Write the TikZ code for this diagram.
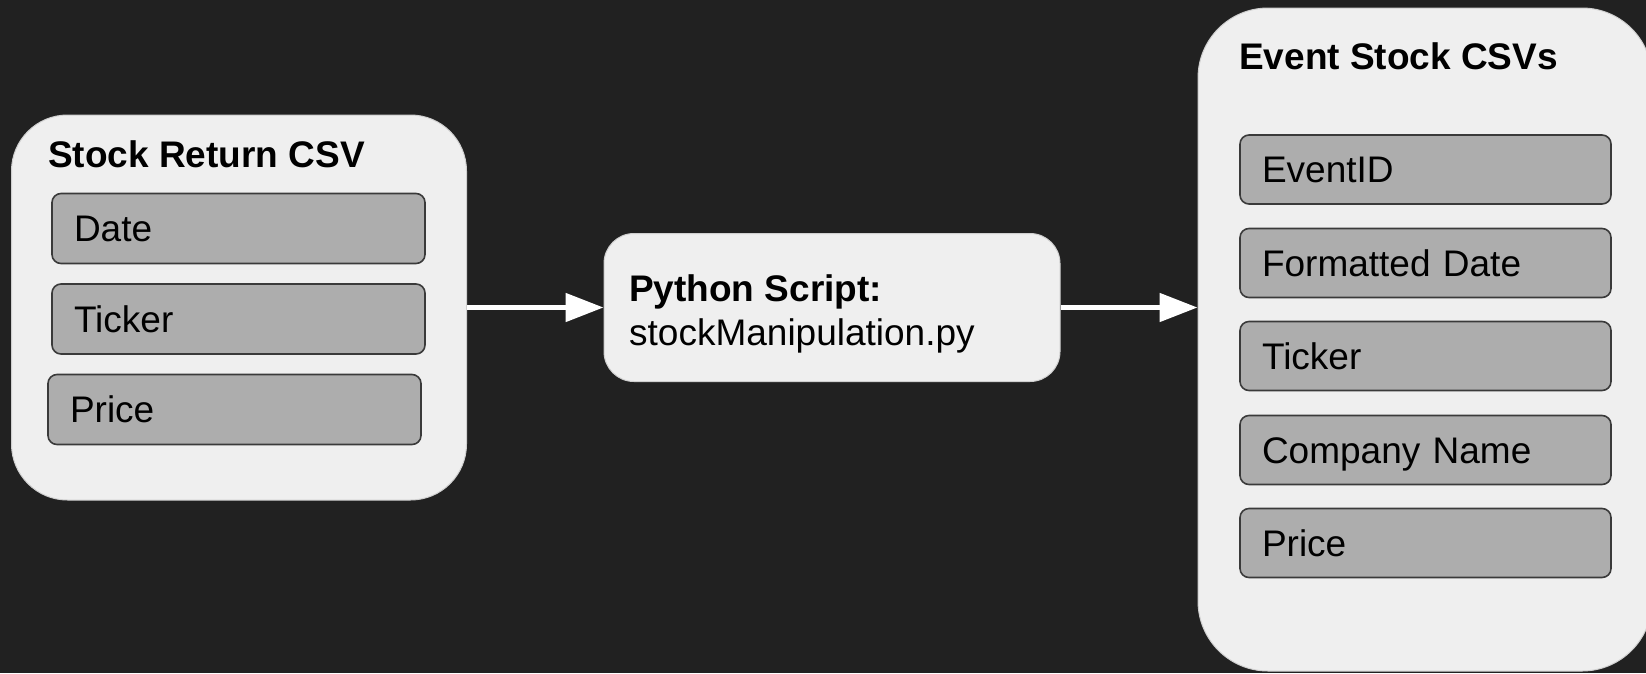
\documentclass[tikz,border=0pt]{standalone}
\usepackage{fontspec}
\setmainfont{Liberation Sans}
\usetikzlibrary{arrows.meta}
\definecolor{bgc}{HTML}{212121}
\definecolor{outerfill}{HTML}{EFEFEF}
\definecolor{outerline}{HTML}{CFCFCF}
\definecolor{fieldfill}{HTML}{ADADAD}
\definecolor{fieldline}{HTML}{3A3A3A}
\tikzset{
  txt/.style={font=\fontsize{37}{44}\selectfont},
  container/.style={draw=outerline, line width=1pt, fill=outerfill, inner sep=0pt},
  field/.style={draw=fieldline, line width=1.6pt, fill=fieldfill, rounded corners=9pt,
    txt, align=left, inner xsep=22pt, inner ysep=0pt, text height=26.5pt, text depth=0pt},
  title/.style={txt, font=\fontsize{37}{44}\selectfont\bfseries, anchor=base west, inner sep=0pt},
  label/.style={txt, anchor=base west, inner sep=0pt},
  flow/.style={draw=white, line width=5pt, -{Triangle[length=38pt, width=28pt]}},
}
\begin{document}
\begin{tikzpicture}[x=1pt, y=-1pt]
\path[use as bounding box, fill=bgc] (0,0) rectangle (1646,673);
% left container
\node[container, rounded corners=56pt, minimum width=455pt, minimum height=385pt] (src) at (239,307.5) {};
\node[title] (srct) at (48,167) {Stock Return CSV};
\node[field, text width=329pt, minimum height=70pt] (f1) at (238.5,228.5) {Date};
\node[field, text width=329pt, minimum height=70pt] (f2) at (238.5,319) {Ticker};
\node[field, text width=329pt, minimum height=70pt] (f3) at (234.5,409.5) {Price};
% middle
\node[container, rounded corners=30pt, minimum width=456pt, minimum height=148pt] (py) at (832,307.5) {};
\node[title] (pyt) at (629,301) {Python Script:};
\node[label] (pyl) at (629,345) {stockManipulation.py};
% right container
\node[container, rounded corners=70pt, minimum width=454pt, minimum height=663pt] (dst) at (1425,339.5) {};
\node[title] (dstt) at (1239,69) {Event Stock CSVs};
\node[field, text width=327pt, minimum height=69pt] (g1) at (1425.5,169.5) {EventID};
\node[field, text width=327pt, minimum height=69pt] (g2) at (1425.5,263) {Formatted Date};
\node[field, text width=327pt, minimum height=69pt] (g3) at (1425.5,356) {Ticker};
\node[field, text width=327pt, minimum height=69pt] (g4) at (1425.5,450) {Company Name};
\node[field, text width=327pt, minimum height=69pt] (g5) at (1425.5,543) {Price};
% arrows
\draw[flow] (src.east |- py.west) -- (py.west);
\draw[flow] (py.east) -- (py.east -| dst.west);
\end{tikzpicture}
\end{document}
